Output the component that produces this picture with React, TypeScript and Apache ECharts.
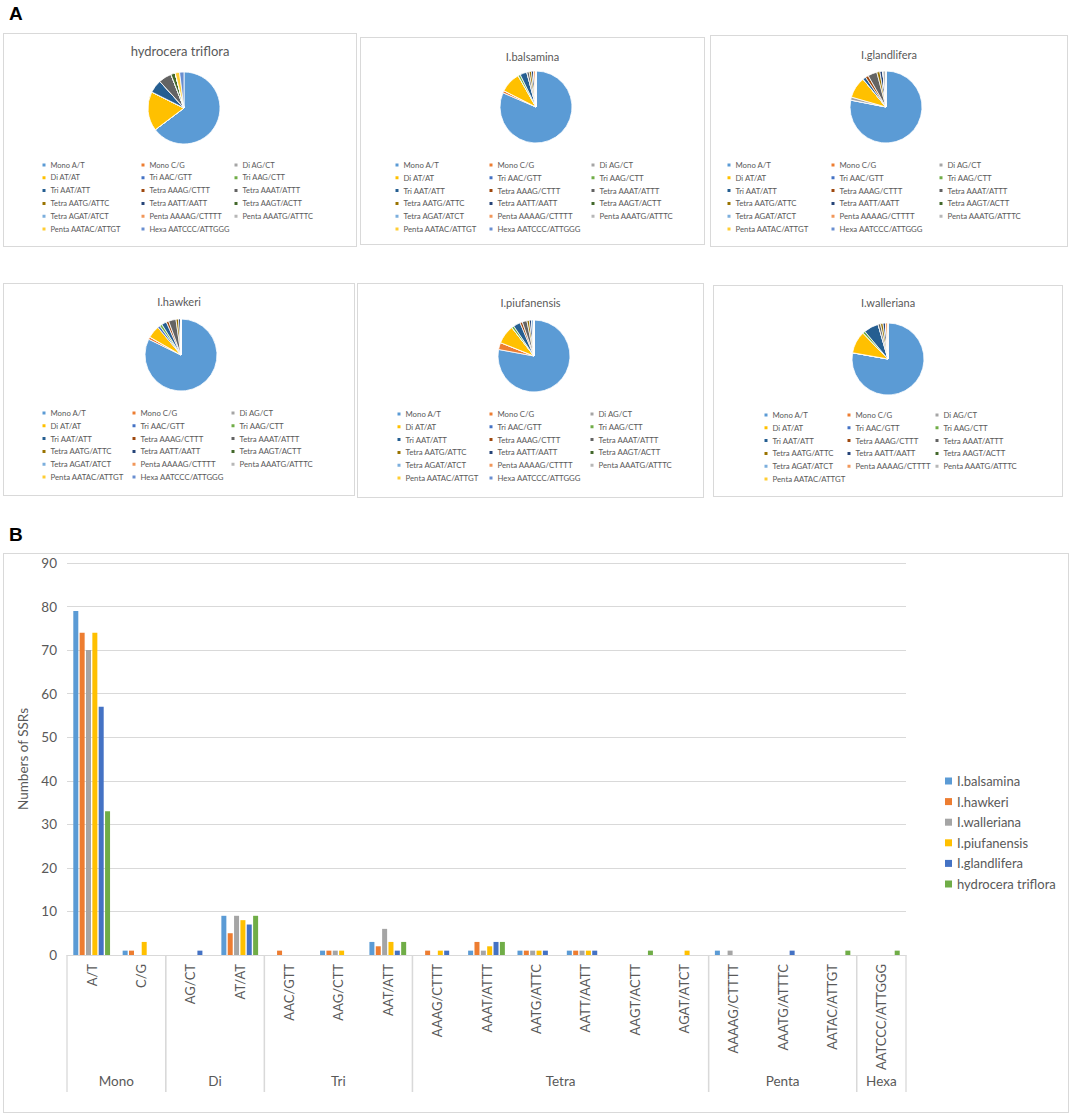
import React, { useEffect, useRef } from "react";
import * as echarts from "echarts";

// ---------- data ----------
const groups = ["Mono", "Di", "Tri", "Tetra", "Penta", "Hexa"];
const groupSizes = [2, 2, 3, 6, 3, 1];
const motifs = [
  "A/T", "C/G",
  "AG/CT", "AT/AT",
  "AAC/GTT", "AAG/CTT", "AAT/ATT",
  "AAAG/CTTT", "AAAT/ATTT", "AATG/ATTC", "AATT/AATT", "AAGT/ACTT", "AGAT/ATCT",
  "AAAAG/CTTTT", "AAATG/ATTTC", "AATAC/ATTGT",
  "AATCCC/ATTGGG",
];
const species = ["I.balsamina", "I.hawkeri", "I.walleriana", "I.piufanensis", "I.glandlifera", "hydrocera triflora"];
const balsamina = [79, 1, 0, 9, 0, 1, 3, 0, 1, 1, 1, 0, 0, 1, 0, 0, 0];
const hawkeri = [74, 1, 0, 5, 1, 1, 2, 1, 3, 1, 1, 0, 0, 0, 0, 0, 0];
const walleriana = [70, 0, 0, 9, 0, 1, 6, 0, 1, 1, 1, 0, 0, 1, 0, 0, 0];
const piufanensis = [74, 3, 0, 8, 0, 1, 3, 1, 2, 1, 1, 0, 1, 0, 0, 0, 0];
const glandlifera = [57, 0, 1, 7, 0, 0, 1, 1, 3, 1, 1, 0, 0, 0, 1, 0, 0];
const hydrocera = [33, 0, 0, 9, 0, 0, 3, 0, 3, 0, 0, 1, 0, 0, 0, 1, 1];
const yTicks = [0, 10, 20, 30, 40, 50, 60, 70, 80, 90];

const seriesValues = [balsamina, hawkeri, walleriana, piufanensis, glandlifera, hydrocera];
const barColors = ["#5B9BD5", "#ED7D31", "#A5A5A5", "#FFC000", "#4472C4", "#70AD47"];
const pieColors = [
  "#5B9BD5", "#ED7D31", "#A5A5A5", "#FFC000", "#4472C4", "#70AD47",
  "#255E91", "#9E480E", "#636363", "#997300", "#264478", "#43682B",
  "#7CAFDD", "#F1975A", "#B7B7B7", "#FFCD33", "#698ED0",
];

// group name for each motif, e.g. "Mono A/T"
const motifGroup: string[] = [];
groups.forEach((g, gi) => {
  for (let k = 0; k < groupSizes[gi]; k++) motifGroup.push(g);
});
const pieNames = motifs.map((m, i) => motifGroup[i] + " " + m);

const FONT = "Lato, 'Open Sans', 'Noto Sans', sans-serif";
const GREY_TEXT = "#595959";
const GRID_LINE = "#D9D9D9";

// ---------- layout of the six pie panels (page coords) ----------
const panels = [
  { x: 3, y: 33, w: 354, h: 214, sp: 5, title: "hydrocera triflora", ts: 13, ty: 51, cx: 184, cy: 108, ly: 165, cols: [43, 142, 235], n: 17, fs: 7.5 },
  { x: 360, y: 37, w: 345, h: 208, sp: 0, title: "I.balsamina", ts: 11, ty: 57, cx: 536, cy: 107, ly: 165, cols: [396, 490, 592], n: 17, fs: 7.8 },
  { x: 710, y: 35, w: 358, h: 212, sp: 4, title: "I.glandlifera", ts: 11, ty: 55, cx: 886, cy: 107, ly: 165, cols: [728, 832, 940], n: 17, fs: 7.8 },
  { x: 3, y: 283, w: 352, h: 213, sp: 1, title: "I.hawkeri", ts: 11, ty: 302, cx: 181, cy: 355, ly: 413, cols: [43, 133, 232], n: 17, fs: 7.8 },
  { x: 357, y: 283, w: 347, h: 215, sp: 3, title: "I.piufanensis", ts: 11, ty: 303, cx: 534, cy: 356, ly: 414, cols: [398, 490, 591], n: 17, fs: 7.8 },
  { x: 713, y: 285, w: 350, h: 212, sp: 2, title: "I.walleriana", ts: 11, ty: 303, cx: 888, cy: 359, ly: 415, cols: [765, 848, 936], n: 16, fs: 7.8 },
];

function useChart(option: any) {
  const ref = useRef<HTMLDivElement>(null);
  useEffect(() => {
    if (!ref.current) return;
    const chart = echarts.init(ref.current, undefined, { renderer: "svg" });
    chart.setOption(option);
    return () => chart.dispose();
  }, []);
  return ref;
}

function PiePanel({ p }: { p: any }) {
  const ox = p.x + 1;
  const oy = p.y + 1;
  const names = pieNames.slice(0, p.n);
  const values = seriesValues[p.sp];
  const rowStep = 12.8;
  const itemH = 9;
  const option = {
    animation: false,
    title: {
      text: p.title,
      left: "center",
      top: p.ty - oy - (p.ts * 1.2) / 2,
      padding: 0,
      textStyle: { fontFamily: FONT, fontSize: p.ts, fontWeight: "normal", color: GREY_TEXT, lineHeight: p.ts * 1.2 },
    },
    legend: [0, 1, 2].map((col) => ({
      orient: "vertical",
      left: p.cols[col] - ox - 2.5,
      top: p.ly - oy - itemH / 2,
      padding: 0,
      itemWidth: 5,
      itemHeight: 5,
      itemGap: rowStep - itemH,
      icon: "rect",
      selectedMode: false,
      data: names.filter((_: string, i: number) => i % 3 === col),
      textStyle: { fontFamily: FONT, fontSize: p.fs, lineHeight: itemH, color: GREY_TEXT, padding: [0, 0, 0, -1] },
    })),
    series: [
      {
        type: "pie",
        radius: 36,
        center: [p.cx - ox, p.cy - oy],
        startAngle: 90,
        clockwise: true,
        label: { show: false },
        labelLine: { show: false },
        silent: true,
        itemStyle: { borderColor: "#ffffff", borderWidth: 0.8 },
        data: names.map((n: string, i: number) => ({ name: n, value: values[i], itemStyle: { color: pieColors[i] } })),
      },
    ],
  };
  const ref = useChart(option);
  return (
    <div
      style={{
        position: "absolute",
        left: p.x,
        top: p.y,
        width: p.w,
        height: p.h,
        border: "1px solid " + GRID_LINE,
        boxSizing: "border-box",
        background: "#fff",
      }}
    >
      <div ref={ref} style={{ width: p.w - 2, height: p.h - 2 }} />
    </div>
  );
}

function BarPanel() {
  const W = 1066;
  const H = 560;
  // group ranges on a 0..17 value axis
  const groupRanges: number[][] = [];
  let acc = 0;
  groupSizes.forEach((s) => {
    groupRanges.push([acc, acc + s, 0]);
    acc += s;
  });

  const option = {
    animation: false,
    grid: { left: 63, top: 9, width: 839, height: 392, outerBoundsMode: "none", containLabel: false },
    legend: {
      orient: "vertical",
      left: 941,
      top: 219.5,
      padding: 0,
      itemWidth: 7,
      itemHeight: 7,
      itemGap: 5.6,
      icon: "rect",
      selectedMode: false,
      data: species,
      textStyle: { fontFamily: FONT, fontSize: 13, lineHeight: 15, color: GREY_TEXT },
    },
    xAxis: [
      {
        type: "category",
        data: motifs,
        axisLine: { show: true, lineStyle: { color: GRID_LINE, width: 1 } },
        axisTick: { show: false },
        axisLabel: { interval: 0, rotate: 90, margin: 9, fontFamily: FONT, fontSize: 13, color: GREY_TEXT },
        splitLine: { show: false },
      },
      { type: "value", min: 0, max: 17, show: false },
    ],
    yAxis: {
      type: "value",
      min: yTicks[0],
      max: yTicks[yTicks.length - 1],
      interval: 10,
      name: "Numbers of SSRs",
      nameLocation: "middle",
      nameGap: 37,
      nameTextStyle: { fontFamily: FONT, fontSize: 13.5, color: GREY_TEXT },
      axisLine: { show: false },
      axisTick: { show: false },
      axisLabel: { margin: 10, fontFamily: FONT, fontSize: 13.5, color: GREY_TEXT },
      splitLine: { lineStyle: { color: GRID_LINE, width: 1 } },
    },
    series: [
      ...species.map((s, i) => ({
        name: s,
        type: "bar",
        xAxisIndex: 0,
        yAxisIndex: 0,
        data: seriesValues[i],
        barWidth: 5,
        barGap: "27%",
        itemStyle: { color: barColors[i] },
        silent: true,
      })),
      {
        type: "custom",
        name: "groups",
        xAxisIndex: 1,
        yAxisIndex: 0,
        silent: true,
        clip: false,
        encode: { x: [0, 1], y: 2 },
        data: groupRanges,
        renderItem: (params: any, api: any) => {
          const p0 = api.coord([api.value(0), 0]);
          const p1 = api.coord([api.value(1), 0]);
          const y0 = p0[1];
          const lineStyle = { stroke: GRID_LINE, lineWidth: 1.3 };
          return {
            type: "group",
            children: [
              { type: "line", shape: { x1: p0[0], y1: y0, x2: p0[0], y2: y0 + 137 }, style: lineStyle },
              { type: "line", shape: { x1: p1[0], y1: y0, x2: p1[0], y2: y0 + 137 }, style: lineStyle },
              {
                type: "text",
                x: (p0[0] + p1[0]) / 2,
                y: y0 + 126,
                style: {
                  text: groups[params.dataIndex],
                  fill: GREY_TEXT,
                  font: "13.5px " + FONT,
                  align: "center",
                  verticalAlign: "middle",
                  textAlign: "center",
                  textVerticalAlign: "middle",
                },
              },
            ],
          };
        },
      },
    ],
  };
  const ref = useChart(option);
  return (
    <div
      style={{
        position: "absolute",
        left: 3,
        top: 553,
        width: W,
        height: H,
        border: "1px solid " + GRID_LINE,
        boxSizing: "border-box",
        background: "#fff",
      }}
    >
      <div ref={ref} style={{ width: W - 2, height: H - 2 }} />
    </div>
  );
}

export default function App() {
  const labelStyle: React.CSSProperties = {
    position: "absolute",
    fontFamily: "'Liberation Sans', Arial, sans-serif",
    fontWeight: "bold",
    fontSize: 19,
    lineHeight: "20px",
    color: "#000",
  };
  return (
    <div style={{ position: "absolute", left: 0, top: 0, width: 1072, height: 1117, background: "#fff", overflow: "hidden" }}>
      <div style={{ ...labelStyle, left: 9, top: 4 }}>A</div>
      <div style={{ ...labelStyle, left: 9, top: 525 }}>B</div>
      {panels.map((p, i) => (
        <PiePanel key={i} p={p} />
      ))}
      <BarPanel />
    </div>
  );
}
